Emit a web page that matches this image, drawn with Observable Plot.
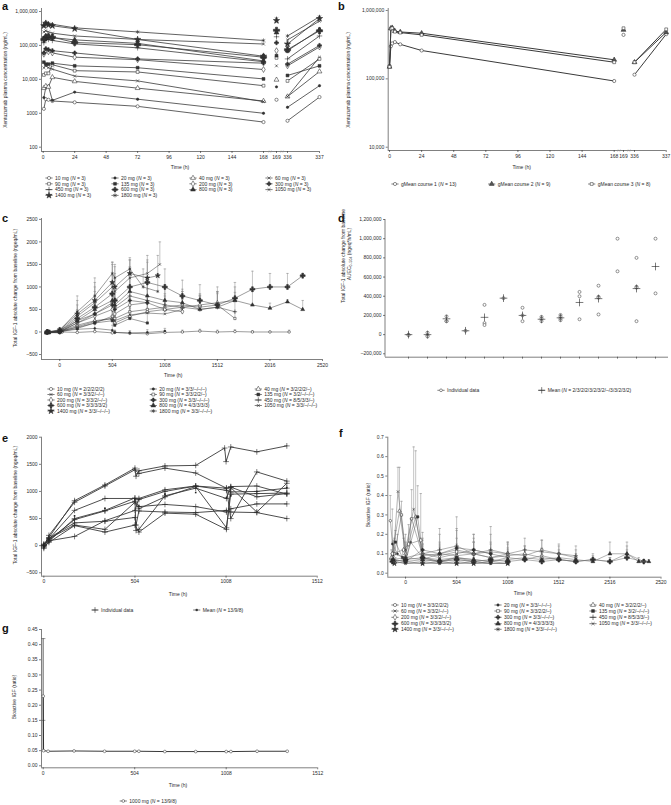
<!DOCTYPE html>
<html><head><meta charset="utf-8">
<script src="https://cdn.jsdelivr.net/npm/d3@7"></script>
<script src="https://cdn.jsdelivr.net/npm/@observablehq/plot@0.6"></script>
<style>
html,body{margin:0;padding:0;background:#fff;}
#root{position:relative;width:671px;height:805px;overflow:hidden;background:#fff;}
#root svg{position:absolute;left:0;top:0;}
</style></head><body><div id="root"></div>
<script>
// ================= DATA =================
const doses = ["10 mg","20 mg","40 mg","60 mg","90 mg","135 mg","200 mg","300 mg","450 mg","600 mg","800 mg","1050 mg","1400 mg","1800 mg"];

// Panel a: xentuzumab plasma concentration (ng/mL)
const timesA = [0.5, 2, 4, 7, 24, 72, 168];
const concA = [
  [1350, 2600, 2500, 2300, 2100, 1600, 550],
  [2900, 5800, 6200, 2400, 4200, 2600, 1000],
  [5500, 6300, 6000, 11500, 8700, 5500, 2300],
  [22000, 25000, 22000, 20000, 12500, 9000, 2200],
  [13500, 15000, 15000, 27000, 18000, 16500, 6500],
  [32000, 28000, 28000, 30000, 25000, 22000, 10300],
  [55000, 70000, 65000, 60000, 45000, 38000, 19500],
  [60000, 80000, 75000, 70000, 60000, 40000, 30000],
  [120000, 150000, 150000, 140000, 111000, 85000, 33000],
  [150000, 170000, 180000, 175000, 122000, 105000, 45000],
  [160000, 190000, 190000, 170000, 146000, 115000, 35000],
  [250000, 270000, 250000, 230000, 190000, 150000, 110000],
  [380000, 450000, 400000, 380000, 310000, 150000, 48000],
  [400000, 480000, 450000, 420000, 330000, 250000, 140000]
];
const concA169 = [2500, 6000, 9700, 25000, 43000, 50000, 70000, 120000, 180000, 280000, 240000, 500000, 540000, 620000];
const concA336 = [600, 1500, 3100, 3100, 9000, 13000, 25000, 28000, 40000, 75000, 70000, 145000, 110000, 190000];
const concA337 = [3000, 6500, 17000, 45000, 40000, 25000, 90000, 100000, 190000, 270000, 290000, 520000, 620000, 700000];
const ticksA = [0, 24, 48, 72, 96, 120, 144, 168, 169, 336, 337];
const yTicksA = [100, 1000, 10000, 100000, 1000000];

// Panel b: gMean per course
const coursesB = ["gMean course 1 (N = 13)", "gMean course 2 (N = 9)", "gMean course 3 (N = 8)"];
const timesB = [0, 1, 2, 4, 8, 24, 168];
const gmeanB = [
  [155000, 300000, 330000, 345000, 320000, 260000, 93000],
  [150000, 550000, 560000, 500000, 485000, 465000, 190000],
  [150000, 540000, 550000, 490000, 475000, 440000, 175000]
];
const gmeanB169 = [440000, 520000, 550000];
const gmeanB336 = [115000, 175000, 175000];
const gmeanB337 = [450000, 480000, 530000];
const yTicksB = [10000, 100000, 1000000];

// Panel c: total IGF-1 change from baseline [time, mean, upper error]
const cN = ["2/2/2/2/2","3/3/–/–/–","3/2/2/2/–","3/3/2/–/–","3/3/2/2/–","3/2/–/–/–","3/3/2/–/–","3/3/–/–/–","8/5/3/3/–","3/3/3/3/2","4/3/3/3/3","3/3/–/–/–","3/3/–/–/–","3/3/–/–/–"];
const cSeries = [
  [[-130,-10,10],[0,-20,10],[24,0,30],[168,-10,20],[336,10,40],[504,-20,10],[528,-10,30],[672,-30,0],[840,-40,0],[1008,-10,20],[1176,0,40],[1344,20,60],[1512,0,40],[1680,10,50],[1848,0,30],[2016,0,20],[2200,0,40]],
  [[-120,-20,20],[0,0,30],[24,20,60],[168,60,140],[336,80,200],[504,40,150],[528,-10,40],[672,-20,30],[840,-10,50],[1008,20,80]],
  [[-110,0,40],[0,10,50],[168,150,280],[336,250,420],[504,300,520],[528,200,380],[672,350,560],[840,450,700],[1008,500,720],[1176,550,800],[1344,600,850],[1512,650,900],[1680,700,880]],
  [[-100,-10,30],[0,0,40],[168,120,260],[336,230,420],[504,300,560],[528,250,500],[672,380,650],[840,420,680],[1008,400,700],[1176,500,760]],
  [[-120,0,30],[0,20,60],[168,100,250],[336,200,380],[504,350,600],[528,300,560],[672,450,750],[840,500,820],[1008,550,850],[1176,600,900],[1344,550,820],[1512,600,880],[1680,300,450]],
  [[-100,-20,20],[0,0,40],[168,80,200],[336,200,400],[504,250,500],[528,150,350],[672,300,520],[840,200,420]],
  [[-120,0,40],[0,10,60],[168,200,380],[336,350,600],[504,500,800],[528,400,700],[672,600,900],[840,650,950],[1008,500,800],[1176,450,720]],
  [[-100,0,30],[0,30,80],[168,250,450],[336,400,700],[504,600,1100],[528,500,900],[672,700,1200],[840,650,1100]],
  [[-130,-10,30],[0,0,50],[168,200,400],[336,400,700],[504,650,1100],[528,550,950],[672,800,1300],[840,700,1150],[1008,600,1000],[1176,550,900],[1344,500,800],[1512,550,900],[1680,450,750]],
  [[-120,0,40],[0,20,70],[168,300,500],[336,550,900],[504,850,1250],[528,700,1150],[672,1000,1450],[840,1100,1550],[1008,1000,1400],[1176,800,1150],[1344,700,1050],[1512,600,1000],[1680,750,1100],[1848,950,1350],[2016,1000,1300],[2184,1000,1300],[2330,1250,1300]],
  [[-130,-20,20],[0,0,40],[168,250,450],[336,500,800],[504,700,1100],[528,600,1000],[672,900,1400],[840,800,1200],[1008,700,1050],[1176,650,950],[1344,500,800],[1512,550,850],[1680,700,1000],[1848,600,900],[2016,530,640],[2184,670,720],[2330,500,700]],
  [[-100,0,40],[0,30,80],[168,350,600],[336,650,1000],[504,1000,1500],[528,900,1300],[672,1200,1600],[840,1300,1700],[960,1500,2000]],
  [[-120,0,50],[0,50,100],[168,400,700],[336,700,1100],[504,1100,1550],[528,1000,1450],[672,1300,1650],[840,1200,1600],[940,1250,1700]],
  [[-110,0,40],[0,40,100],[168,450,800],[336,800,1200],[504,1300,1550],[528,1200,1500],[672,1400,1600],[800,1000,1400],[940,900,1300]]
];
const xTicksC = [0, 504, 1008, 1512, 2016, 2520];
const yTicksC = [-500, 0, 500, 1000, 1500, 2000, 2500];

// Panel d: AUEC by dose
const dIndiv = [[0,-5000],[20000,-10000,-20000],[190000,140000,140000],[40000],[310000,120000,100000],[380000],[280000,200000,140000],[185000,165000,140000],[205000,185000,165000,150000],[445000,400000,160000],[510000,395000,385000,210000],[1000000,660000],[800000,500000,490000,140000],[1000000,430000]];
const dMean = [0, 0, 165000, 40000, 180000, 380000, 200000, 160000, 175000, 335000, 375000, null, 480000, 710000];
const yTicksD = [-200000, 0, 200000, 400000, 600000, 800000, 1000000, 1200000];
const dLegend = ["Individual data", "Mean (N = 2/3/2/2/3/2/3/2/–/3/3/2/3/2)"];

// Panel e: 1000 mg individual lines and mean
const eLines = [
  [[0,0],[28,150],[170,830],[338,1120],[504,1430],[510,1280],[526,1380],[670,1470],[840,1480],[1000,1800],[1008,1550],[1034,1820],[1178,1730],[1344,1840]],
  [[0,-30],[28,190],[170,800],[338,1100],[504,1400],[526,1330],[670,1430],[840,1340],[1010,1060],[1034,500],[1178,1360],[1344,1190]],
  [[0,20],[28,120],[170,650],[338,870],[504,870],[526,850],[670,1000],[840,1100],[1010,1060],[1034,1080],[1178,900],[1344,960]],
  [[0,-50],[28,80],[170,500],[338,650],[504,880],[510,280],[526,300],[670,920],[840,1060],[1010,870],[1034,1090],[1178,1100],[1344,950]],
  [[0,0],[28,100],[170,480],[338,640],[504,820],[526,720],[670,760],[840,720],[1010,620],[1034,680],[1178,770],[1344,770]],
  [[0,30],[28,140],[170,420],[338,450],[504,520],[510,380],[526,640],[670,620],[840,610],[1010,650],[1034,620],[1178,610],[1344,500]],
  [[0,-20],[28,60],[170,370],[338,250],[504,380],[526,250],[670,600],[840,580],[1010,300],[1034,1070],[1178,620],[1344,1150]],
  [[0,10],[28,90],[170,170],[338,460],[504,650],[526,870],[670,1030],[840,1100],[1010,1020],[1034,990],[1178,1000],[1344,1060]],
  [[0,0],[28,130],[170,380],[338,300],[504,800],[526,680],[670,900],[840,1090],[1010,330],[1034,950],[1178,960],[1344,970]]
];
const eMean = [[0,0],[28,120],[170,550],[338,690],[504,860],[526,730],[670,950],[840,980],[1010,880],[1034,920],[1178,1000],[1344,1070]];
const xTicksE = [0, 504, 1008, 1512];
const yTicksE = [-500, 0, 500, 1000, 1500, 2000];
const eLegend = ["Individual data", "Mean (N = 13/9/8)"];

// Panel f: bioactive IGF ratio [time, mean, upper error]
const fN = ["3/3/2/2/2","3/3/–/–/–","3/2/2/2/–","3/3/2/–/–","3/3/2/2/–","3/2/–/–/–","3/3/2/–/–","3/3/–/–/–","8/5/3/3/–","3/3/3/3/2","4/3/3/3/3","3/3/–/–/–","3/3/–/–/–","3/3/–/–/–"];
const fSeries = [
  [[-150,0.27,0.40],[-120,0.10,0.17],[0,0.08,0.12],[168,0.07,0.10],[336,0.06,0.08],[504,0.08,0.12],[672,0.07,0.10],[840,0.06,0.08],[1008,0.08,0.11],[1176,0.07,0.10],[1344,0.09,0.13],[1512,0.07,0.10],[1680,0.06,0.08],[1848,0.07,0.10],[2016,0.06,0.08],[2184,0.10,0.16],[2350,0.06,0.07]],
  [[-130,0.15,0.33],[-80,0.10,0.20],[0,0.07,0.10],[50,0.16,0.28],[168,0.08,0.12],[336,0.06,0.09],[504,0.07,0.10],[672,0.06,0.08],[840,0.05,0.06]],
  [[-140,0.08,0.12],[-60,0.32,0.545],[0,0.10,0.16],[100,0.29,0.63],[168,0.07,0.10],[336,0.10,0.15],[504,0.09,0.14],[672,0.10,0.16],[840,0.08,0.12],[1008,0.09,0.13],[1176,0.10,0.14],[1344,0.08,0.12],[1512,0.07,0.10],[1680,0.06,0.08]],
  [[-120,0.09,0.15],[-75,0.42,0.545],[0,0.12,0.20],[80,0.33,0.65],[168,0.10,0.18],[336,0.08,0.13],[504,0.10,0.15],[672,0.12,0.20],[840,0.10,0.16],[1008,0.08,0.12]],
  [[-110,0.10,0.18],[-40,0.30,0.37],[0,0.08,0.12],[60,0.28,0.43],[168,0.09,0.15],[336,0.10,0.16],[504,0.12,0.22],[672,0.10,0.18],[840,0.11,0.20],[1008,0.10,0.16],[1176,0.09,0.14],[1344,0.12,0.17],[1512,0.10,0.14],[1680,0.08,0.12]],
  [[-100,0.16,0.22],[-30,0.08,0.12],[0,0.06,0.09],[120,0.29,0.45],[168,0.08,0.14],[336,0.07,0.10],[504,0.08,0.12],[672,0.06,0.09]],
  [[-130,0.10,0.16],[-20,0.12,0.18],[30,0.15,0.25],[150,0.17,0.41],[168,0.10,0.15],[336,0.09,0.14],[504,0.11,0.18],[672,0.10,0.16],[840,0.08,0.12],[1008,0.10,0.15]],
  [[-120,0.07,0.10],[0,0.06,0.08],[168,0.12,0.21],[336,0.10,0.23],[504,0.13,0.29],[672,0.12,0.20],[840,0.10,0.15]],
  [[-140,0.07,0.10],[0,0.08,0.12],[168,0.10,0.17],[336,0.12,0.20],[504,0.14,0.23],[672,0.10,0.16],[840,0.12,0.24],[1008,0.10,0.16],[1176,0.12,0.18],[1344,0.11,0.17],[1512,0.10,0.15],[1680,0.09,0.14]],
  [[-130,0.06,0.08],[0,0.07,0.10],[168,0.08,0.12],[336,0.06,0.09],[504,0.07,0.10],[672,0.06,0.08],[840,0.07,0.10],[1008,0.06,0.08],[1176,0.07,0.10],[1344,0.06,0.08],[1512,0.07,0.10],[1680,0.06,0.08],[1848,0.07,0.09],[2016,0.06,0.08],[2184,0.08,0.12],[2350,0.06,0.07]],
  [[-120,0.07,0.09],[0,0.06,0.08],[168,0.07,0.10],[336,0.06,0.08],[504,0.08,0.12],[672,0.07,0.10],[840,0.06,0.08],[1008,0.07,0.10],[1176,0.08,0.12],[1344,0.07,0.10],[1512,0.08,0.12],[1680,0.07,0.10],[1848,0.06,0.08],[2016,0.10,0.16],[2184,0.10,0.14],[2300,0.06,0.08],[2400,0.06,0.07]],
  [[-100,0.06,0.08],[0,0.05,0.06],[168,0.06,0.08],[336,0.05,0.07],[504,0.06,0.08],[672,0.05,0.06],[840,0.05,0.06],[1008,0.05,0.06]],
  [[-110,0.05,0.06],[0,0.06,0.08],[168,0.05,0.06],[336,0.06,0.07],[504,0.05,0.06],[672,0.05,0.06],[840,0.06,0.07],[1008,0.05,0.06]],
  [[-130,0.06,0.08],[0,0.05,0.07],[168,0.05,0.06],[336,0.05,0.06],[504,0.05,0.06],[672,0.06,0.07],[840,0.05,0.06],[1008,0.05,0.06]]
];
const xTicksF = [0, 504, 1008, 1512, 2016, 2520];
const xTickLabelsF = ["0", "504", "1008", "1512", "2516", "2520"];
const yTicksF = [0, 0.1, 0.2, 0.3, 0.4, 0.5, 0.6, 0.7];

// Panel g: 1000 mg bioactive IGF
const gTimes = [0, 2, 27, 170, 338, 504, 527, 670, 840, 1008, 1034, 1178, 1344];
const gValues = [0.23, 0.05, 0.048, 0.049, 0.048, 0.048, 0.048, 0.047, 0.047, 0.047, 0.047, 0.048, 0.048];
const gErr = [[0, 0.05, 0.42]];
const gCaps = [0.15, 0.42];
const xTicksG = [0, 504, 1008, 1512];
const yTicksG = [0, 0.05, 0.10, 0.15, 0.20, 0.25, 0.30, 0.35, 0.40, 0.45];

// ================= STYLE =================
const symNames = ["circle","circle","triangle","times","square","square","diamond","cross","plus","cross","triangle","times","star","asterisk"];
const symFills = ["white","#333","white","none","white","#333","white","#333","none","#333","#333","none","#333","none"];
const symR = [1.6,1.2,1.8,1.5,1.6,1.6,1.8,1.7,1.9,2.6,1.8,1.5,2.0,1.9];

const W = 671, H = 805;
const FONT = '"Liberation Sans", Arial, Helvetica, sans-serif';
const INK = "#2a2a2a", LINE = "#3a3a3a", ERR = "#8a8a8a";
const root = document.getElementById("root");
const capSym = {draw(c, s) { const r = Math.sqrt(s / Math.PI); c.moveTo(-r, 0); c.lineTo(r, 0); }};
const minusFmt = f => d => d < 0 ? "–" + f(-d) : f(d);
const comma = d3.format(",");

function panel(f, x, y, marks) {
  const svg = Plot.plot({
    width: W, height: H,
    marginLeft: f.l, marginRight: W - f.r, marginTop: f.t, marginBottom: H - f.b,
    style: {background: "transparent", fontFamily: FONT, fontSize: "5px", color: INK, overflow: "visible"},
    x: {...x, axis: null}, y: {...y, axis: null},
    marks
  });
  root.appendChild(svg);
  return svg;
}
const axX = (ticks, fmt, extra = {}) => Plot.axisX({ticks, tickFormat: fmt, tickSize: 2, tickPadding: 1.5, fontSize: 5, label: null, strokeWidth: 0.6, ...extra});
const axY = (ticks, fmt) => Plot.axisY({ticks, tickFormat: fmt, tickSize: 2, tickPadding: 2, fontSize: 5, label: null, strokeWidth: 0.6});
const frameL = (xmin, ymin) => [Plot.ruleX([xmin], {stroke: INK, strokeWidth: 0.6}), Plot.ruleY([ymin], {stroke: INK, strokeWidth: 0.6})];
const dotOpts = (i, extra = {}) => ({symbol: symNames[i], fill: symFills[i], stroke: INK, strokeWidth: 0.55, r: symR[i], ...extra});

// ---------- Panel a ----------
const aMarks = [];
doses.forEach((d, i) => {
  const rows = timesA.map((t, j) => ({t, v: concA[i][j], seg: 0}));
  rows.push({t: 169, v: concA169[i], seg: 1});
  rows.push({t: 336, v: concA336[i], seg: 2}, {t: 337, v: concA337[i], seg: 2});
  aMarks.push(Plot.line(rows, {x: "t", y: "v", z: "seg", stroke: LINE, strokeWidth: 0.8}));
  aMarks.push(Plot.dot(rows, {x: "t", y: "v", ...dotOpts(i)}));
});
const logFmt = d => d < 10000 ? String(d) : comma(d);
panel({l: 41, r: 319, t: 8, b: 151},
  {type: "linear", domain: [-1.3, 168, 169, 336, 337], range: [41, 263, 276, 287, 319]},
  {type: "log", domain: [74.6, 1e6], range: [151, 11]},
  [...frameL(-1.3, 74.6), axX(ticksA, d => String(d)), axY(yTicksA, logFmt),
   Plot.text([168.5, 252], {x: d => d, y: 74.6, text: () => "/ /", fontSize: 4, fill: "#999"}),
   ...aMarks]);

// ---------- Panel b ----------
const bSym = [{s: "circle", f: "white", r: 1.6}, {s: "triangle", f: "#555", r: 1.8}, {s: "square", f: "white", r: 1.6}];
const bMarks = [];
coursesB.forEach((c, i) => {
  const rows = timesB.map((t, j) => ({t, v: gmeanB[i][j], seg: 0}));
  rows.push({t: 169, v: gmeanB169[i], seg: 1});
  rows.push({t: 336, v: gmeanB336[i], seg: 2}, {t: 337, v: gmeanB337[i], seg: 2});
  bMarks.push(Plot.line(rows, {x: "t", y: "v", z: "seg", stroke: LINE, strokeWidth: 1}));
  bMarks.push(Plot.dot(rows, {x: "t", y: "v", symbol: bSym[i].s, fill: bSym[i].f, stroke: INK, strokeWidth: 0.55, r: bSym[i].r}));
});
panel({l: 387.7, r: 665.7, t: 8, b: 150},
  {type: "linear", domain: [-1, 168, 169, 336, 337], range: [387.7, 613.7, 623, 634, 665.7]},
  {type: "log", domain: [8950, 1e6], range: [150, 10]},
  [...frameL(-1, 8950), axX(ticksA, d => String(d)), axY(yTicksB, comma),
   Plot.text([168.5, 252], {x: d => d, y: 8950, text: () => "/ /", fontSize: 4, fill: "#999"}),
   ...bMarks]);

// ---------- Panel c ----------
const cMarks = [], cDots = [];
cSeries.forEach((s, i) => {
  const rows = s.map(([t, v, u]) => ({t, v, u}));
  cMarks.push(Plot.ruleX(rows, {x: "t", y1: "v", y2: "u", stroke: ERR, strokeWidth: 0.5}));
  cMarks.push(Plot.dot(rows, {x: "t", y: "u", symbol: capSym, r: 1.3, stroke: ERR, strokeWidth: 0.5, fill: "none"}));
  cDots.push(Plot.line(rows, {x: "t", y: "v", stroke: LINE, strokeWidth: 0.5}));
  cDots.push(Plot.dot(rows, {x: "t", y: "v", ...dotOpts(i, {r: symR[i] * 0.8})}));
});
panel({l: 41, r: 322, t: 218, b: 359},
  {type: "linear", domain: [-175, 2520]},
  {type: "linear", domain: [-611, 2520]},
  [...frameL(-175, -611), axX(xTicksC, d => String(d)), axY(yTicksC, minusFmt(String)), ...cMarks, ...cDots]);

// ---------- Panel d ----------
const dRows = [], dMeanRows = [];
doses.forEach((d, i) => {
  dIndiv[i].forEach(v => dRows.push({dose: d, v}));
  if (dMean[i] != null) dMeanRows.push({dose: d, v: dMean[i]});
});
panel({l: 385, r: 668, t: 219, b: 356.7},
  {type: "point", domain: doses, range: [402.7, 660], padding: 0},
  {type: "linear", domain: [-235500, 1200000]},
  [Plot.ruleY([-235500], {stroke: INK, strokeWidth: 0.6}),
   axX(doses, null, {tickRotate: -45, tickPadding: 1}),
   axY(yTicksD, minusFmt(comma)),
   Plot.dot(dRows, {x: "dose", y: "v", symbol: "circle", fill: "white", stroke: INK, strokeWidth: 0.5, r: 1.5}),
   Plot.dot(dMeanRows, {x: "dose", y: "v", symbol: "plus", stroke: "#222", strokeWidth: 0.6, r: 2.6})]);

// ---------- Panel e ----------
const eMarks = [];
eLines.forEach(l => {
  const rows = l.map(([t, v]) => ({t, v}));
  eMarks.push(Plot.line(rows, {x: "t", y: "v", stroke: LINE, strokeWidth: 0.9}));
  eMarks.push(Plot.dot(rows, {x: "t", y: "v", symbol: "plus", stroke: INK, strokeWidth: 0.6, r: 2}));
});
const eMeanRows = eMean.map(([t, v]) => ({t, v}));
panel({l: 41, r: 316.7, t: 436.7, b: 575.7},
  {type: "linear", domain: [-12.8, 1512]},
  {type: "linear", domain: [-563, 2000]},
  [...frameL(-12.8, -563), axX(xTicksE, d => String(d)), axY(yTicksE, minusFmt(String)), ...eMarks,
   Plot.dot(eMeanRows, {x: "t", y: "v", symbol: "square", fill: "#222", r: 0.9})]);

// ---------- Panel f ----------
const fMarks = [], fDots = [];
fSeries.forEach((s, i) => {
  const rows = s.map(([t, v, u]) => ({t, v, u}));
  fMarks.push(Plot.ruleX(rows, {x: "t", y1: "v", y2: "u", stroke: ERR, strokeWidth: 0.5}));
  fMarks.push(Plot.dot(rows, {x: "t", y: "u", symbol: capSym, r: 1.3, stroke: ERR, strokeWidth: 0.5, fill: "none"}));
  fDots.push(Plot.line(rows, {x: "t", y: "v", stroke: "#666", strokeWidth: 0.5}));
  fDots.push(Plot.dot(rows, {x: "t", y: "v", ...dotOpts(i, {r: symR[i] * 0.8})}));
});
panel({l: 387.3, r: 660.5, t: 436.7, b: 576.7},
  {type: "linear", domain: [-175, 2520]},
  {type: "linear", domain: [-0.0206, 0.7]},
  [...frameL(-175, -0.0206), axX(xTicksF, d => xTickLabelsF[xTicksF.indexOf(d)]), axY(yTicksF, d3.format(".1f")), ...fMarks, ...fDots]);

// ---------- Panel g ----------
const gRows = gTimes.map((t, j) => ({t, v: gValues[j]}));
const gErrRows = gErr.map(([t, lo, hi]) => ({t, lo, hi}));
panel({l: 41, r: 317.2, t: 629, b: 767.3},
  {type: "linear", domain: [-9.4, 1512]},
  {type: "linear", domain: [-0.0066, 0.45]},
  [...frameL(-9.4, -0.0066), axX(xTicksG, d => String(d)), axY(yTicksG, d3.format(".2f")),
   Plot.ruleX(gErrRows, {x: "t", y1: "lo", y2: "hi", stroke: "#999", strokeWidth: 1.6}),
   Plot.dot(gCaps, {x: () => 0, y: d => d, symbol: capSym, r: 2.2, stroke: "#555", strokeWidth: 0.6}),
   Plot.line(gRows, {x: "t", y: "v", stroke: "#222", strokeWidth: 0.9}),
   Plot.dot(gRows, {x: "t", y: "v", symbol: "circle", fill: "white", stroke: INK, strokeWidth: 0.5, r: 1.4})]);

// ================= TEXT OVERLAY (titles, labels, legends) =================
const ov = d3.select(root).append("svg").attr("width", W).attr("height", H)
  .attr("font-family", FONT).attr("font-size", 5).attr("fill", INK);
const symMap = {circle: d3.symbolCircle, cross: d3.symbolCross, diamond: d3.symbolDiamond, square: d3.symbolSquare,
  star: d3.symbolStar, triangle: d3.symbolTriangle, wye: d3.symbolWye, plus: d3.symbolPlus, times: d3.symbolTimes, asterisk: d3.symbolAsterisk};
function T(x, y, s, o = {}) {
  const t = ov.append("text").attr("x", x).attr("y", y).attr("dy", "0.35em").attr("text-anchor", o.a || "start");
  if (o.rot) t.attr("transform", `rotate(${o.rot},${x},${y})`);
  if (o.size) t.attr("font-size", o.size);
  if (o.bold) t.attr("font-weight", "bold");
  s.split(/(\bN\b)/).forEach(p => { const ts = t.append("tspan").text(p); if (p === "N") ts.attr("font-style", "italic"); });
  return t;
}
function LG(mx, y, label, sym) {
  ov.append("line").attr("x1", mx - 3.6).attr("x2", mx + 3.6).attr("y1", y).attr("y2", y).attr("stroke", INK).attr("stroke-width", 0.6);
  if (sym) {
    const strokeOnly = ["plus", "times", "asterisk"].includes(sym.s);
    ov.append("path").attr("d", d3.symbol(symMap[sym.s], Math.PI * sym.r * sym.r)())
      .attr("transform", `translate(${mx},${y})`).attr("fill", strokeOnly ? "none" : sym.f)
      .attr("stroke", INK).attr("stroke-width", strokeOnly ? 0.6 : 0.5);
  }
  T(mx + 6, y, label);
}
const doseSym = i => ({s: symNames[i], f: symFills[i], r: Math.min(symR[i], 2)});

// y-axis line of panel d (categorical x scale)
ov.append("line").attr("x1", 385).attr("x2", 385).attr("y1", 219).attr("y2", 356.7).attr("stroke", INK).attr("stroke-width", 0.6);

// panel letters
[["a", 2, 6], ["b", 338, 6], ["c", 2, 218], ["d", 338, 218], ["e", 2, 438], ["f", 339, 433], ["g", 2, 628]]
  .forEach(([s, x, y]) => T(x, y, s, {size: 11, bold: true}).attr("fill", "#111"));

// axis titles
T(5, 80, "Xentuzumab plasma concentration (ng/mL)", {a: "middle", rot: -90});
T(180, 167, "Time (h)", {a: "middle"});
T(348.5, 80, "Xentuzumab plasma concentration (ng/mL)", {a: "middle", rot: -90});
T(521.7, 167.7, "Time (h)", {a: "middle"});
T(15, 288, "Total IGF-1 absolute change from baseline (ngeq/mL)", {a: "middle", rot: -90});
T(173.3, 375.7, "Time (h)", {a: "middle"});
T(343.5, 256, "Total IGF-1 absolute change from baseline", {a: "middle", rot: -90});
{
  const t = ov.append("text").attr("x", 349.5).attr("y", 254).attr("dy", "0.35em").attr("text-anchor", "middle")
    .attr("transform", "rotate(-90,349.5,254)");
  t.append("tspan").text("AUEC");
  t.append("tspan").text("0–504").attr("font-size", 3.5).attr("dy", "1.2");
  t.append("tspan").text(" (ngeq*h/mL)").attr("dy", "-1.2");
}
T(15, 505, "Total IGF-1 absolute change from baseline (ngeq/mL)", {a: "middle", rot: -90});
T(178, 594, "Time (h)", {a: "middle"});
T(368.3, 505, "Bioactive IGF (ratio)", {a: "middle", rot: -90});
T(523, 593.3, "Time (h)", {a: "middle"});
T(14, 697, "Bioactive IGF (ratio)", {a: "middle", rot: -90});
T(178, 785.7, "Time (h)", {a: "middle"});

// legends
const colsA = [49, 115, 193, 269], rowsA = [178, 183.8, 189.6, 195.4];
doses.forEach((d, i) => LG(colsA[i % 4], rowsA[Math.floor(i / 4)], `${d} (N = 3)`, doseSym(i)));
[395, 491.7, 591.7].forEach((x, i) => LG(x, 184, coursesB[i], bSym[i]));
const colsC = [51, 153.3, 258.3], rowsC = [389, 394.5, 400, 405.5, 411];
doses.forEach((d, i) => LG(colsC[i % 3], rowsC[Math.floor(i / 3)], `${d} (N = ${cN[i]})`, doseSym(i)));
LG(441, 390.3, dLegend[0], {s: "circle", f: "white", r: 1.4});
LG(541.7, 390.3, dLegend[1], {s: "plus", f: "none", r: 2.2});
LG(95, 610, eLegend[0], {s: "plus", f: "none", r: 2});
LG(196.7, 610, eLegend[1], {s: "square", f: "#222", r: 0.9});
const colsF = [395, 498, 593], rowsF = [605, 611, 617.3, 623.7, 629.3];
doses.forEach((d, i) => LG(colsF[i % 3], rowsF[Math.floor(i / 3)], `${d} (N = ${fN[i]})`, doseSym(i)));
LG(123.3, 801, "1000 mg (N = 13/9/8)", {s: "circle", f: "white", r: 1.4});
</script></body></html>
